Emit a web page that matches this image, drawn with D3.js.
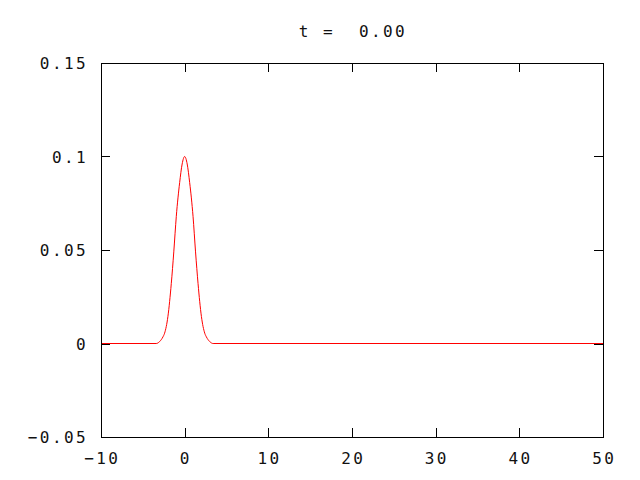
<!DOCTYPE html>
<html>
<head>
<meta charset="utf-8">
<script src="https://cdn.jsdelivr.net/npm/d3@7"></script>
<style>
  html, body { margin: 0; padding: 0; background: #fff; }
  svg text { font-family: "DejaVu Sans Mono", monospace; font-size: 16px; letter-spacing: 2.4px; fill: #111; white-space: pre; }
</style>
</head>
<body>
<svg id="chart" width="640" height="480"></svg>
<script>
// Data
const xValues = [-10, -3.4, -3.0, -2.6, -2.4, -2.0, -1.6, -1.3, -1.0, -0.6, -0.3, 0, 0.3, 0.6, 1.0, 1.3, 1.6, 2.0, 2.4, 2.6, 3.0, 3.4, 50];
const yValues = [0, 0, 0.001, 0.0035, 0.0055, 0.0145, 0.032, 0.049, 0.068, 0.086, 0.096, 0.1, 0.096, 0.086, 0.068, 0.049, 0.032, 0.0145, 0.0055, 0.0035, 0.001, 0, 0];
const xTicks = [-10, 0, 10, 20, 30, 40, 50];
const yTicks = [-0.05, 0, 0.05, 0.1, 0.15];
const yTickLabels = ["-0.05", "0", "0.05", "0.1", "0.15"];
const titleText = "t =  0.00";

(function () {
const svg = d3.select("#chart");
const pLeft = 101, pRight = 603, pTop = 63, pBottom = 437;
const x = d3.scaleLinear().domain([-10, 50]).range([pLeft, pRight]);
const y = d3.scaleLinear().domain([-0.05, 0.15]).range([pBottom, pTop]);
const tickLen = 9;
const fmt = s => String(s).replace("-", "\u2212");

// ticks (inward, mirrored)
const g = svg.append("g").attr("stroke", "#000").attr("stroke-width", 1).attr("shape-rendering", "crispEdges");
xTicks.forEach(v => {
  const px = Math.round(x(v)) + 0.5;
  g.append("line").attr("x1", px).attr("x2", px).attr("y1", pBottom).attr("y2", pBottom - tickLen);
  g.append("line").attr("x1", px).attr("x2", px).attr("y1", pTop).attr("y2", pTop + tickLen);
});
yTicks.forEach(v => {
  const py = Math.round(y(v)) + 0.5;
  g.append("line").attr("x1", pLeft).attr("x2", pLeft + tickLen).attr("y1", py).attr("y2", py);
  g.append("line").attr("x1", pRight).attr("x2", pRight - tickLen).attr("y1", py).attr("y2", py);
});

// curve
const pts = xValues.map((d, i) => [d, yValues[i]]);
svg.append("path")
  .datum(pts)
  .attr("fill", "none")
  .attr("stroke", "#ff0000")
  .attr("stroke-width", 1)
  .attr("d", d3.line().x(d => x(d[0])).y(d => y(d[1])).curve(d3.curveMonotoneX));

// frame
svg.append("rect")
  .attr("x", pLeft + 0.5).attr("y", pTop + 0.5)
  .attr("width", pRight - pLeft).attr("height", pBottom - pTop)
  .attr("fill", "none").attr("stroke", "#000").attr("stroke-width", 1)
  .attr("shape-rendering", "crispEdges");

// labels
xTicks.forEach(v => {
  svg.append("text").attr("x", x(v) + 1.2).attr("y", 463.5).attr("text-anchor", "middle").text(fmt(v));
});
yTicks.forEach((v, i) => {
  svg.append("text").attr("x", 88).attr("y", y(v) + 6).attr("text-anchor", "end").text(fmt(yTickLabels[i]));
});
svg.append("text").attr("x", 353).attr("y", 37).attr("text-anchor", "middle").text(titleText);
})();
</script>
</body>
</html>
